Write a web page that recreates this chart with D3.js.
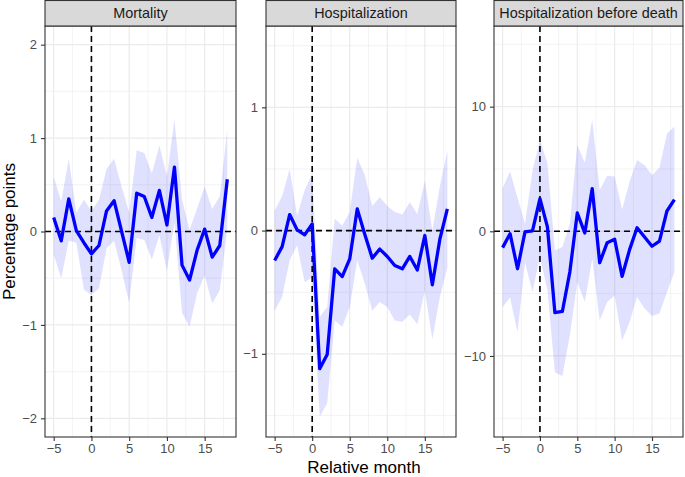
<!DOCTYPE html>
<html>
	<head>
		<meta http-equiv='Content-Type' content='text/html;charset=utf-8'/>
		<title>Event study</title>
		<script src='https://d3js.org/d3.v7.min.js'></script>
		<style>
			body { margin: 0; background: #ffffff; }
			text { font-family: 'Liberation Sans', Arial, sans-serif; }
		</style>
	</head>

	<body>
	<script>
	'use strict'
	// relative month of each estimate
	const months = [-5, -4, -3, -2, -1, 0, 1, 2, 3, 4, 5, 6, 7, 8, 9, 10, 11, 12, 13, 14, 15, 16, 17, 18]

	// Mortality
	const mortEst = [0.15, -0.10, 0.35, 0.01, -0.12, -0.24, -0.15, 0.22, 0.33, 0.0, -0.33, 0.41, 0.375, 0.15, 0.44, 0.07, 0.69, -0.36, -0.52, -0.2, 0.025, -0.275, -0.15, 0.56]
	const mortHi = [0.59, 0.32, 0.78, 0.2, 0.34, 0.22, 0.34, 0.67, 0.78, 0.48, 0.2, 0.87, 0.84, 0.62, 0.92, 0.59, 1.2, 0.34, 0.02, 0.25, 0.48, 0.24, 0.38, 1.09]
	const mortLo = [-0.25, -0.5, -0.1, -0.12, -0.62, -0.68, -0.61, -0.18, -0.1, -0.42, -0.76, -0.07, -0.09, -0.3, -0.04, -0.42, 0.1, -0.87, -1.02, -0.66, -0.47, -0.77, -0.63, 0.03]

	// Hospitalization
	const hospEst = [-0.243, -0.13, 0.13, 0.005, -0.035, 0.054, -1.12, -1.005, -0.31, -0.373, -0.23, 0.176, -0.03, -0.224, -0.15, -0.21, -0.284, -0.31, -0.21, -0.32, -0.04, -0.44, -0.07, 0.176]
	const hospHi = [0.16, 0.28, 0.5, 0.12, 0.33, 0.46, -0.70, -0.62, 0.095, 0.04, 0.15, 0.59, 0.45, 0.2, 0.27, 0.2, 0.15, 0.13, 0.23, 0.135, 0.405, 0.0, 0.36, 0.65]
	const hospLo = [-0.65, -0.54, -0.24, -0.12, -0.42, -0.38, -1.51, -1.4, -0.73, -0.78, -0.62, -0.24, -0.43, -0.65, -0.58, -0.62, -0.73, -0.74, -0.68, -0.76, -0.49, -0.88, -0.54, -0.30]

	// Hospitalization before death
	const hbdEst = [-1.31, -0.19, -3.0, -0.05, 0.03, 2.62, 0.35, -6.53, -6.43, -3.27, 1.47, -0.13, 3.43, -2.52, -0.91, -0.64, -3.61, -1.47, 0.29, -0.46, -1.2, -0.78, 1.63, 2.54]
	const hbdHi = [3.45, 4.8, 2.7, 0.6, 4.85, 7.3, 5.5, -1.53, -1.26, 0.62, 6.95, 5.5, 8.95, 3.3, 4.45, 4.4, 1.75, 4.0, 5.73, 5.3, 4.5, 5.1, 7.84, 8.38]
	const hbdLo = [-6.1, -5.3, -8.1, -2.5, -4.87, -2.06, -4.7, -11.3, -11.6, -8.35, -4.07, -5.68, -2.2, -7.15, -5.68, -5.14, -8.76, -7.28, -5.27, -6.2, -6.8, -6.6, -4.87, -3.27]

	// facet titles and tick labels
	const titles = ['Mortality', 'Hospitalization', 'Hospitalization before death']
	const xTicks = [-5, 0, 5, 10, 15]
	const xMinor = [-2.5, 2.5, 7.5, 12.5, 17.5]
	const mortTicks = [-2, -1, 0, 1, 2]
	const hospTicks = [-1, 0, 1]
	const hbdTicks = [-10, 0, 10]
	const mortMinor = [-1.5, -0.5, 0.5, 1.5]
	const hospMinor = [-1.5, -0.5, 0.5, 1.5]
	const hbdMinor = [-15, -5, 5, 15]

	const width = 685
	const height = 477
	const plotTop = 26
	const plotBottom = 437

	const svg = d3.select('body').append('svg')
		.attr('width', width)
		.attr('height', height)

	svg.append('rect')
		.attr('width', '100%')
		.attr('height', '100%')
		.attr('fill', '#ffffff')

	const panels = [
		{title: titles[0], est: mortEst, lo: mortLo, hi: mortHi, left: 45, right: 236, domain: [-2.2, 2.2], ticks: mortTicks, minor: mortMinor},
		{title: titles[1], est: hospEst, lo: hospLo, hi: hospHi, left: 266, right: 456, domain: [-1.675, 1.66], ticks: hospTicks, minor: hospMinor},
		{title: titles[2], est: hbdEst, lo: hbdLo, hi: hbdHi, left: 494, right: 683, domain: [-16.5, 16.47], ticks: hbdTicks, minor: hbdMinor}
	]

	panels.forEach(drawPanel)

	// axis titles
	svg.append('text')
		.attr('x', (panels[0].left + panels[2].right) / 2)
		.attr('y', 473)
		.attr('text-anchor', 'middle')
		.attr('font-size', 17)
		.attr('fill', '#000000')
		.text('Relative month')

	svg.append('text')
		.attr('transform', 'translate(14.5,' + ((plotTop + plotBottom) / 2) + ') rotate(-90)')
		.attr('text-anchor', 'middle')
		.attr('font-size', 17)
		.attr('fill', '#000000')
		.text('Percentage points')

	/**
	 * drawPanel
	 * One facet: grid, ribbon, reference lines, estimate line, strip and axes.
	 * @param {Object} p panel settings
	 */
	function drawPanel(p)
	{
		const x = d3.scaleLinear().domain([-6.15, 19.15]).range([p.left, p.right])
		const y = d3.scaleLinear().domain(p.domain).range([plotBottom, plotTop])
		const g = svg.append('g')

		const rows = months.map(function(m, i) { return {m: m, est: p.est[i], lo: p.lo[i], hi: p.hi[i]} })

		// minor grid
		g.selectAll('.xminor').data(xMinor).enter().append('line')
			.attr('x1', d => x(d)).attr('x2', d => x(d))
			.attr('y1', plotTop).attr('y2', plotBottom)
			.attr('stroke', '#ebebeb').attr('stroke-width', 0.6)
		g.selectAll('.yminor').data(p.minor).enter().append('line')
			.attr('x1', p.left).attr('x2', p.right)
			.attr('y1', d => y(d)).attr('y2', d => y(d))
			.attr('stroke', '#ebebeb').attr('stroke-width', 0.6)

		// major grid
		g.selectAll('.xmajor').data(xTicks).enter().append('line')
			.attr('x1', d => x(d)).attr('x2', d => x(d))
			.attr('y1', plotTop).attr('y2', plotBottom)
			.attr('stroke', '#ebebeb').attr('stroke-width', 1.2)
		g.selectAll('.ymajor').data(p.ticks).enter().append('line')
			.attr('x1', p.left).attr('x2', p.right)
			.attr('y1', d => y(d)).attr('y2', d => y(d))
			.attr('stroke', '#ebebeb').attr('stroke-width', 1.2)

		// confidence ribbon
		const area = d3.area()
			.x(d => x(d.m))
			.y0(d => y(d.lo))
			.y1(d => y(d.hi))
		g.append('path')
			.datum(rows)
			.attr('d', area)
			.attr('fill', '#0000ff')
			.attr('fill-opacity', 0.12)

		// reference lines at zero
		g.append('line')
			.attr('x1', p.left).attr('x2', p.right)
			.attr('y1', y(0)).attr('y2', y(0))
			.attr('stroke', '#000000').attr('stroke-width', 1.6)
			.attr('stroke-dasharray', '6,4')
		g.append('line')
			.attr('x1', x(0)).attr('x2', x(0))
			.attr('y1', plotTop).attr('y2', plotBottom)
			.attr('stroke', '#000000').attr('stroke-width', 1.6)
			.attr('stroke-dasharray', '6,4')

		// estimate
		const line = d3.line()
			.x(d => x(d.m))
			.y(d => y(d.est))
		g.append('path')
			.datum(rows)
			.attr('d', line)
			.attr('fill', 'none')
			.attr('stroke', '#0000ff')
			.attr('stroke-width', 3.3)
			.attr('stroke-linejoin', 'round')

		// panel border
		g.append('rect')
			.attr('x', p.left).attr('y', plotTop)
			.attr('width', p.right - p.left).attr('height', plotBottom - plotTop)
			.attr('fill', 'none')
			.attr('stroke', '#333333').attr('stroke-width', 1.1)

		// strip
		g.append('rect')
			.attr('x', p.left).attr('y', 0.5)
			.attr('width', p.right - p.left).attr('height', plotTop - 0.5)
			.attr('fill', '#d9d9d9')
			.attr('stroke', '#333333').attr('stroke-width', 1.1)
		g.append('text')
			.attr('x', (p.left + p.right) / 2)
			.attr('y', 18)
			.attr('text-anchor', 'middle')
			.attr('font-size', 14.4)
			.attr('fill', '#1a1a1a')
			.text(p.title)

		// axes
		const fmt = d3.format('d')
		const yAxis = g.append('g')
			.attr('transform', 'translate(' + p.left + ',0)')
			.call(d3.axisLeft(y).tickValues(p.ticks).tickFormat(fmt).tickSize(4).tickPadding(4))
		const xAxis = g.append('g')
			.attr('transform', 'translate(0,' + plotBottom + ')')
			.call(d3.axisBottom(x).tickValues(xTicks).tickFormat(fmt).tickSize(4).tickPadding(3))

		styleAxis(yAxis)
		styleAxis(xAxis)
	}

	/**
	 * styleAxis
	 * ggplot look for d3 axes.
	 * @param {Object} a axis selection
	 */
	function styleAxis(a)
	{
		a.select('.domain').remove()
		a.selectAll('.tick line').attr('stroke', '#333333').attr('stroke-width', 1.1)
		a.selectAll('.tick text')
			.attr('fill', '#4d4d4d')
			.attr('font-size', 13)
			.attr('font-family', "'Liberation Sans', Arial, sans-serif")
	}
	</script>
	</body>
</html>
